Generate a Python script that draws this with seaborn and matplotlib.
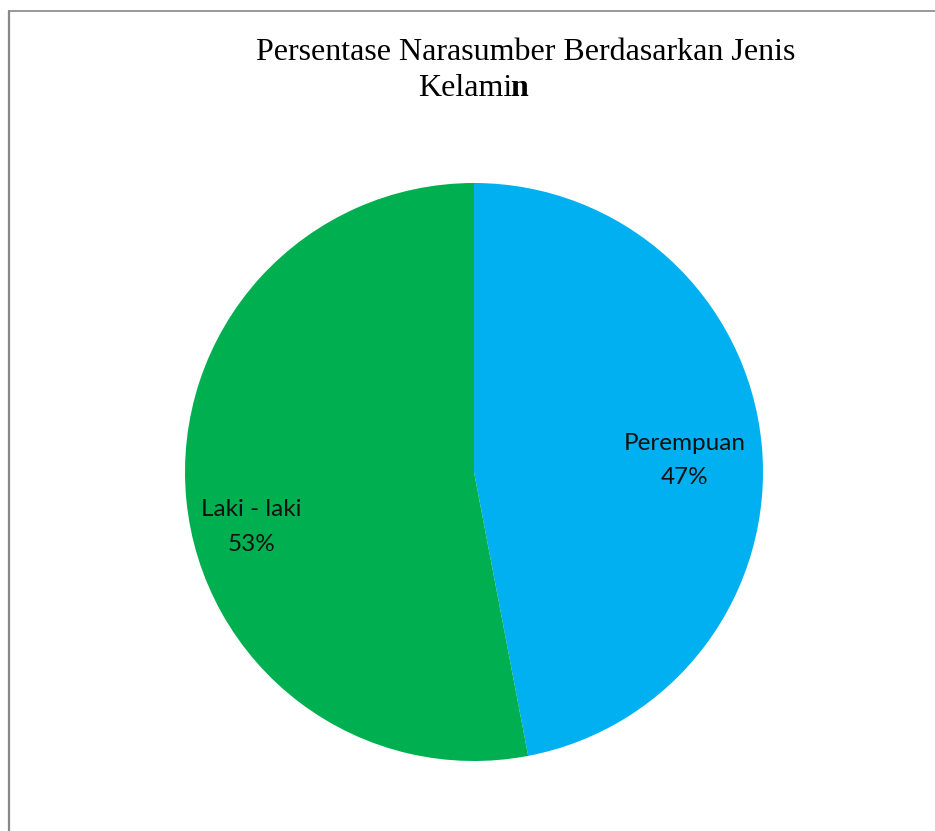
import matplotlib
matplotlib.use("Agg")
import matplotlib.pyplot as plt
import seaborn as sns
from matplotlib.lines import Line2D

# Respondent share by gender (percent)
categories = ["Perempuan", "Laki - laki"]
shares = [47, 53]
colors = ["#00B0F0", "#00B050"]

title_line1 = "Persentase Narasumber Berdasarkan Jenis"
title_line2_regular = "Kelami"
title_line2_bold = "n"

sns.set_theme(style="white")

W, H = 935, 831
fig = plt.figure(figsize=(W / 100, H / 100), dpi=100)
fig.patch.set_facecolor("white")

# Pie axes: centre (474, 472) px, radius 289 px
cx, cy, r = 474, 472, 289
ax = fig.add_axes([(cx - r) / W, (H - cy - r) / H, 2 * r / W, 2 * r / H])
wedges, _ = ax.pie(shares, colors=colors, startangle=90, counterclock=False,
                   radius=1.0, wedgeprops=dict(linewidth=0))
ax.set_xlim(-1, 1)
ax.set_ylim(-1, 1)
ax.set_axis_off()

# Data labels inside each slice
label_pos = {"Perempuan": (0.73, 0.04), "Laki - laki": (-0.77, -0.19)}
for cat, val in zip(categories, shares):
    x, y = label_pos[cat]
    ax.text(x, y, f"{cat}\n{val}%", ha="center", va="center",
            fontsize=17.5, family="Lato", color="#111111", linespacing=1.8)

# Title in serif, last letter bold
serif = ["Liberation Serif", "DejaVu Serif"]
fig.text(526 / W, 1 - 53 / H, title_line1, ha="center", va="center",
         fontsize=23, family=serif, color="black")
fig.text(512 / W, 1 - 89 / H, title_line2_regular, ha="right", va="center",
         fontsize=23, family=serif, color="black")
fig.text(510.5 / W, 1 - 89 / H, title_line2_bold, ha="left", va="center",
         fontsize=23, family=serif, fontweight="bold", color="black")

# Partial outer frame (left and top edges)
frame_color = "#888888"
fig.add_artist(Line2D([8.5 / W, 8.5 / W], [0, 1 - 11 / H], color=frame_color,
                      linewidth=1.6, transform=fig.transFigure))
fig.add_artist(Line2D([8.5 / W, 1], [1 - 11 / H, 1 - 11 / H], color=frame_color,
                      linewidth=1.2, transform=fig.transFigure))

fig.savefig("out.png", dpi=100, facecolor="white")
